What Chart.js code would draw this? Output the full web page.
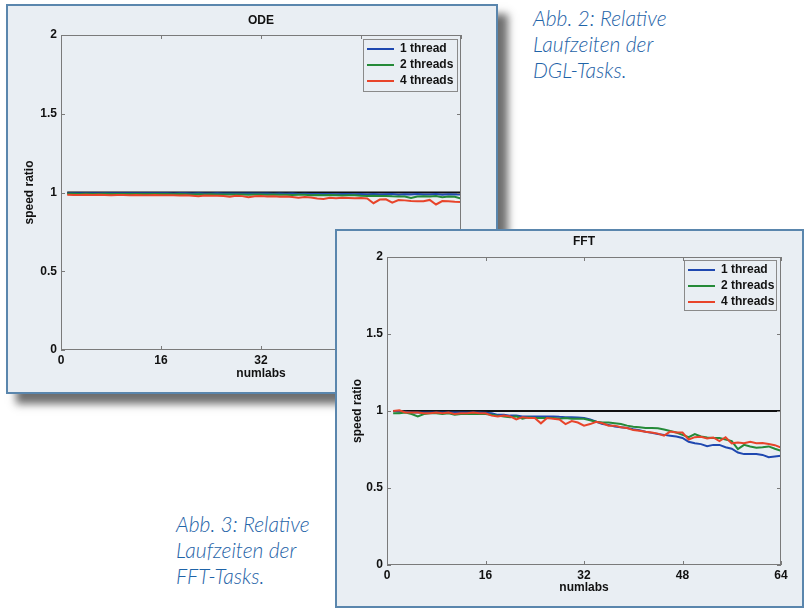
<!DOCTYPE html>
<html>
<head>
<meta charset="utf-8">
<title>ODE / FFT speed ratio</title>
<script src="https://cdn.jsdelivr.net/npm/chart.js@4.4.1/dist/chart.umd.min.js"></script>
<style>
  body { margin: 0; width: 804px; height: 609px; background: #fff; position: relative; overflow: hidden; }
  .panel { position: absolute; box-sizing: border-box; border: 2px solid #5a86ad; background: #e9eef3; }
  #odePanel { left: 6px; top: 4px; width: 492px; height: 390px; box-shadow: 10px 10px 8px rgba(50, 50, 50, 0.7); z-index: 1; }
  #fftPanel { left: 335px; top: 229px; width: 469px; height: 379px; z-index: 2; }
  .panel canvas { position: absolute; left: 0; top: 0; }
  .caption { position: absolute; font-family: Lato, "Open Sans", sans-serif; font-style: italic; font-weight: 300;
             font-size: 21px; line-height: 26px; color: #1f64a8; white-space: nowrap; }
</style>
</head>
<body>
<div class="panel" id="odePanel"><canvas id="odeChart" width="488" height="386"></canvas></div>
<div class="panel" id="fftPanel"><canvas id="fftChart" width="465" height="375"></canvas></div>
<div class="caption" style="left:533px; top:5px;">Abb. 2: Relative<br>Laufzeiten der<br>DGL-Tasks.</div>
<div class="caption" style="left:176px; top:511px;">Abb. 3: Relative<br>Laufzeiten der<br>FFT-Tasks.</div>
<script>
// x axis: number of labs
const numlabs = [1, 2, 3, 4, 5, 6, 7, 8, 9, 10, 11, 12, 13, 14, 15, 16,
  17, 18, 19, 20, 21, 22, 23, 24, 25, 26, 27, 28, 29, 30, 31, 32,
  33, 34, 35, 36, 37, 38, 39, 40, 41, 42, 43, 44, 45, 46, 47, 48,
  49, 50, 51, 52, 53, 54, 55, 56, 57, 58, 59, 60, 61, 62, 63, 64];

const xTicks = [0, 16, 32, 48, 64];
const yTicks = [0, 0.5, 1, 1.5, 2];
const seriesLabels = ['1 thread', '2 threads', '4 threads'];

// reference line (speed ratio 1)
const refX = [1, 64];
const refY = [1, 1];

// ODE
const odeOne = [0.995, 0.996, 0.995, 0.995, 0.996, 0.995, 0.995, 0.995, 0.996, 0.995, 0.995, 0.995, 0.995, 0.996, 0.995, 0.995,
  0.995, 0.994, 0.995, 0.995, 0.994, 0.995, 0.994, 0.994, 0.995, 0.994, 0.993, 0.994, 0.994, 0.993, 0.994, 0.993,
  0.993, 0.992, 0.993, 0.992, 0.993, 0.991, 0.992, 0.991, 0.990, 0.991, 0.990, 0.989, 0.990, 0.991, 0.989, 0.990,
  0.988, 0.990, 0.987, 0.989, 0.990, 0.986, 0.989, 0.988, 0.990, 0.987, 0.988, 0.990, 0.986, 0.989, 0.987, 0.988];
const odeTwo = [0.992, 0.992, 0.991, 0.992, 0.991, 0.991, 0.992, 0.991, 0.990, 0.991, 0.991, 0.990, 0.991, 0.990, 0.991, 0.990,
  0.990, 0.989, 0.990, 0.989, 0.988, 0.989, 0.988, 0.989, 0.988, 0.987, 0.988, 0.988, 0.987, 0.986, 0.987, 0.987,
  0.986, 0.987, 0.985, 0.986, 0.984, 0.985, 0.986, 0.983, 0.984, 0.982, 0.984, 0.983, 0.981, 0.982, 0.983, 0.980,
  0.978, 0.979, 0.977, 0.978, 0.976, 0.975, 0.974, 0.965, 0.975, 0.976, 0.974, 0.977, 0.970, 0.975, 0.973, 0.962];
const odeFour = [0.985, 0.984, 0.984, 0.985, 0.984, 0.985, 0.984, 0.983, 0.984, 0.984, 0.983, 0.984, 0.982, 0.983, 0.984, 0.983,
  0.982, 0.983, 0.981, 0.982, 0.980, 0.976, 0.981, 0.979, 0.980, 0.978, 0.973, 0.979, 0.977, 0.970, 0.976, 0.977,
  0.975, 0.976, 0.973, 0.975, 0.972, 0.966, 0.971, 0.968, 0.962, 0.959, 0.966, 0.964, 0.967, 0.965, 0.963, 0.965,
  0.962, 0.932, 0.955, 0.957, 0.935, 0.952, 0.950, 0.946, 0.944, 0.944, 0.953, 0.924, 0.946, 0.945, 0.941, 0.940];

// FFT
const fftOne = [1.000, 0.995, 0.995, 0.990, 0.990, 0.990, 0.990, 0.990, 0.990, 0.990, 0.990, 0.990, 0.990, 0.990, 0.990, 0.988,
  0.985, 0.975, 0.975, 0.970, 0.970, 0.965, 0.965, 0.965, 0.965, 0.965, 0.965, 0.962, 0.960, 0.960, 0.958, 0.955,
  0.945, 0.930, 0.915, 0.910, 0.900, 0.895, 0.890, 0.882, 0.875, 0.865, 0.858, 0.850, 0.845, 0.840, 0.835, 0.825,
  0.800, 0.790, 0.785, 0.772, 0.780, 0.780, 0.765, 0.755, 0.730, 0.720, 0.720, 0.720, 0.715, 0.700, 0.705, 0.710];
const fftTwo = [0.985, 0.985, 0.990, 0.980, 0.965, 0.980, 0.985, 0.985, 0.980, 0.985, 0.975, 0.980, 0.980, 0.980, 0.980, 0.980,
  0.975, 0.970, 0.965, 0.960, 0.965, 0.950, 0.960, 0.955, 0.955, 0.955, 0.955, 0.950, 0.955, 0.950, 0.950, 0.950,
  0.940, 0.930, 0.925, 0.925, 0.920, 0.915, 0.905, 0.898, 0.895, 0.890, 0.890, 0.888, 0.880, 0.870, 0.860, 0.845,
  0.830, 0.850, 0.835, 0.828, 0.825, 0.825, 0.815, 0.805, 0.752, 0.780, 0.770, 0.762, 0.765, 0.770, 0.755, 0.742];
const fftFour = [1.000, 1.005, 0.990, 0.990, 0.990, 0.985, 0.985, 0.990, 0.985, 0.990, 0.980, 0.985, 0.985, 0.990, 0.985, 0.985,
  0.970, 0.965, 0.970, 0.965, 0.945, 0.960, 0.955, 0.955, 0.920, 0.955, 0.950, 0.945, 0.915, 0.935, 0.925, 0.905,
  0.915, 0.930, 0.920, 0.905, 0.905, 0.895, 0.890, 0.876, 0.872, 0.865, 0.860, 0.853, 0.840, 0.866, 0.860, 0.860,
  0.815, 0.830, 0.832, 0.822, 0.828, 0.805, 0.830, 0.790, 0.795, 0.790, 0.800, 0.790, 0.792, 0.785, 0.778, 0.762];

const lineColors = ['#1f48b0', '#258a38', '#e8442a'];

// MATLAB-like box: frame, inward ticks on all four sides, legend frame inside the plot
const matlabBox = {
  id: 'matlabBox',
  afterLayout(chart, args, opts) {
    const lg = chart.legend;
    const b = opts.legendBox;
    if (!lg || !b) return;
    lg.left = b.left;
    lg.top = b.top;
    lg.right = b.left + b.width;
    lg.bottom = chart.chartArea.bottom;
    lg.width = b.width;
  },
  afterDatasetsDraw(chart, args, opts) {
    const {ctx, chartArea: a, scales} = chart;
    const len = 4;
    ctx.save();
    ctx.strokeStyle = '#7a7a7a';
    ctx.lineWidth = 1;
    ctx.strokeRect(a.left + 0.5, a.top + 0.5, a.width - 1, a.height - 1);
    ctx.beginPath();
    scales.x.ticks.forEach(t => {
      const px = Math.round(scales.x.getPixelForValue(t.value)) + 0.5;
      ctx.moveTo(px, a.bottom); ctx.lineTo(px, a.bottom - len);
      ctx.moveTo(px, a.top); ctx.lineTo(px, a.top + len);
    });
    scales.y.ticks.forEach(t => {
      const py = Math.round(scales.y.getPixelForValue(t.value)) + 0.5;
      ctx.moveTo(a.left, py); ctx.lineTo(a.left + len, py);
      ctx.moveTo(a.right, py); ctx.lineTo(a.right - len, py);
    });
    ctx.stroke();
    const b = opts.legendBox;
    if (b) {
      ctx.strokeStyle = '#8a8a8a';
      ctx.strokeRect(b.left + 0.5, b.top + 0.5, b.width, b.height);
    }
    ctx.restore();
  }
};

function buildChart(canvasId, title, series, geo) {
  const datasets = series.map((values, i) => ({
    label: seriesLabels[i],
    data: values,
    borderColor: lineColors[i],
    backgroundColor: lineColors[i],
    borderWidth: 2,
    pointRadius: 0,
    tension: 0,
    fill: false,
    order: 3 - i
  }));
  datasets.push({
    label: 'ref',
    data: refX.map((x, i) => ({x, y: refY[i]})),
    borderColor: '#111111',
    borderWidth: 2,
    pointRadius: 0,
    fill: false,
    order: 4
  });

  const tickFont = {family: '"Liberation Sans", Arial, sans-serif', size: 12, weight: 'bold'};

  return new Chart(document.getElementById(canvasId), {
    type: 'line',
    data: {labels: numlabs, datasets},
    options: {
      responsive: false,
      animation: false,
      events: [],
      layout: {padding: {left: 0, right: geo.padRight, top: 0, bottom: 0}},
      plugins: {
        title: {
          display: true,
          text: title,
          fullSize: false,
          color: '#111',
          font: tickFont,
          padding: geo.titlePad
        },
        legend: {
          display: true,
          position: 'chartArea',
          align: 'start',
          labels: {
            filter: item => item.text !== 'ref',
            sort: (a, b) => a.datasetIndex - b.datasetIndex,
            usePointStyle: true,
            pointStyle: 'line',
            pointStyleWidth: 27,
            padding: 4,
            color: '#111',
            font: tickFont
          }
        },
        tooltip: {enabled: false},
        matlabBox: {legendBox: geo.legend}
      },
      scales: {
        x: {
          type: 'linear',
          min: 0,
          max: 64,
          afterBuildTicks: s => { s.ticks = xTicks.map(v => ({value: v})); },
          afterFit: s => { s.height = geo.xAxisHeight; },
          grid: {display: false, drawTicks: false},
          border: {display: false},
          ticks: {padding: 3, color: '#111', font: tickFont, maxRotation: 0, autoSkip: false},
          title: {display: true, text: 'numlabs', color: '#111', font: tickFont, padding: {top: 0, bottom: geo.xTitlePad}}
        },
        y: {
          type: 'linear',
          min: 0,
          max: 2,
          afterBuildTicks: s => { s.ticks = yTicks.map(v => ({value: v})); },
          afterFit: s => { s.width = geo.yAxisWidth; },
          grid: {display: false, drawTicks: false},
          border: {display: false},
          ticks: {padding: 4, color: '#111', font: tickFont, callback: v => String(v)},
          title: {display: true, text: 'speed ratio', color: '#111', font: tickFont, padding: {top: geo.yTitlePad, bottom: 0}}
        }
      }
    },
    plugins: [matlabBox]
  });
}

buildChart('odeChart', 'ODE', [odeOne, odeTwo, odeFour], {
  yAxisWidth: 53, padRight: 35, xAxisHeight: 42,
  titlePad: {top: 7.8, bottom: 6.8}, xTitlePad: 10.8, yTitlePad: 14.8,
  legend: {left: 355, top: 33, width: 94, height: 52}
});

buildChart('fftChart', 'FFT', [fftOne, fftTwo, fftFour], {
  yAxisWidth: 50, padRight: 21, xAxisHeight: 41,
  titlePad: {top: 3.8, bottom: 7.8}, xTitlePad: 10.8, yTitlePad: 13.8,
  legend: {left: 347, top: 29, width: 92, height: 50}
});
</script>
</body>
</html>
